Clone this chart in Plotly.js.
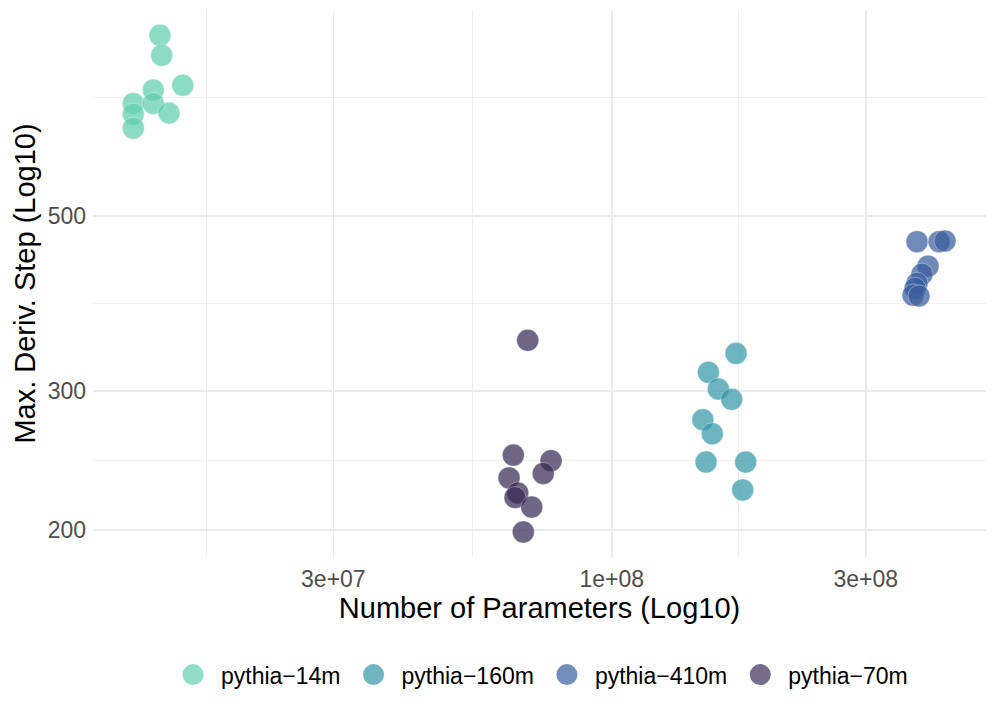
<!DOCTYPE html>
<html>
<head>
<meta charset="utf-8">
<script src="https://cdn.plot.ly/plotly-3.0.1.min.js"></script>
<style>
  html, body { margin: 0; padding: 0; background: #fff; }
  #chart { width: 997px; height: 712px; }
</style>
</head>
<body>
<div id="chart"></div>
<script>
// model names, as shown in the legend
var models = ['pythia\u221214m', 'pythia\u2212160m', 'pythia\u2212410m', 'pythia\u221270m'];
var colors = ['rgba(96,206,172,0.72)', 'rgba(52,151,169,0.72)', 'rgba(57,93,156,0.72)', 'rgba(56,42,84,0.72)'];
// same colours flattened on white, for the legend keys
var keyColors = ['#8FDDC5', '#71B5C3', '#758DBA', '#756B8B'];

// jittered parameter counts / max derivative step
var params_14m = [1.417e7, 1.428e7, 1.564e7, 1.377e7, 1.263e7, 1.377e7, 1.474e7, 1.263e7, 1.263e7];
var step_14m   = [847, 799, 732, 722, 694, 694, 675, 673, 646];

var params_160m = [1.712e8, 1.519e8, 1.586e8, 1.680e8, 1.483e8, 1.545e8, 1.504e8, 1.785e8, 1.762e8];
var step_160m   = [335, 317, 302, 293, 276, 265, 244, 244, 225];

var params_410m = [3.745e8, 4.119e8, 4.227e8, 3.928e8, 3.826e8, 3.745e8, 3.713e8, 3.681e8, 3.777e8];
var step_410m   = [464, 464, 465, 432, 422, 411, 405, 397, 396];

var params_70m = [6.954e7, 6.534e7, 7.691e7, 7.438e7, 6.415e7, 6.660e7, 6.582e7, 7.075e7, 6.823e7];
var step_70m   = [348, 249, 245, 236, 233, 223, 220, 214, 199];

// axis breaks
var xTicks = [3e7, 1e8, 3e8];
var xTickText = ['3e+07', '1e+08', '3e+08'];
var xMinor = [1.732e7, 5.477e7, 1.732e8];
var yTicks = [200, 300, 500];
var yTickText = ['200', '300', '500'];
var yMinor = [244.9, 387.3, 707.1];

var xs = [params_14m, params_160m, params_410m, params_70m];
var ys = [step_14m, step_160m, step_410m, step_70m];

var data = models.map(function (m, i) {
  return {
    x: xs[i],
    y: ys[i],
    name: m,
    legendgroup: m,
    showlegend: false,
    type: 'scatter',
    mode: 'markers',
    marker: {
      size: 22,
      color: colors[i],
      line: { width: 1, color: 'rgba(255,255,255,0.35)' }
    },
    hoverinfo: 'x+y+name'
  };
});

// legend-only entries: plotly caps legend symbols at 16px, the thick
// outline in the same colour brings the key up to ggplot's size
models.forEach(function (m, i) {
  data.push({
    x: [null],
    y: [null],
    name: m,
    legendgroup: m,
    type: 'scatter',
    mode: 'markers',
    marker: { size: 16, color: keyColors[i], line: { width: 5, color: keyColors[i] } },
    hoverinfo: 'skip'
  });
});

var grid = '#EBEBEB';
var font = 'Liberation Sans, Arial, Helvetica, sans-serif';

var layout = {
  width: 997,
  height: 712,
  margin: { l: 93, r: 11, t: 10, b: 155 },
  paper_bgcolor: '#fff',
  plot_bgcolor: '#fff',
  font: { family: font, color: '#000' },
  showlegend: true,
  xaxis: {
    type: 'log',
    range: [7.0257, 8.703],
    tickvals: xTicks,
    ticktext: xTickText,
    ticks: '',
    showline: false,
    zeroline: false,
    showgrid: true,
    gridcolor: grid,
    gridwidth: 1.6,
    tickfont: { family: font, size: 23, color: '#4D4D4D' },
    ticklabelstandoff: 6,
    minor: { tickvals: xMinor, showgrid: true, gridcolor: grid, gridwidth: 0.8, ticks: '' },
    automargin: false,
    title: {
      text: 'Number of Parameters (Log10)',
      font: { family: font, size: 29, color: '#000' },
      standoff: 5
    }
  },
  yaxis: {
    type: 'log',
    range: [2.2672, 2.9598],
    tickvals: yTicks,
    ticktext: yTickText,
    ticks: '',
    showline: false,
    zeroline: false,
    showgrid: true,
    gridcolor: grid,
    gridwidth: 1.6,
    tickfont: { family: font, size: 23, color: '#4D4D4D' },
    ticklabelstandoff: 6,
    minor: { tickvals: yMinor, showgrid: true, gridcolor: grid, gridwidth: 0.8, ticks: '' },
    automargin: false,
    title: {
      text: 'Max. Deriv. Step (Log10)',
      font: { family: font, size: 29, color: '#000' },
      standoff: 3
    }
  },
  legend: {
    orientation: 'h',
    x: 0.0806,
    xanchor: 'left',
    y: -0.215,
    yanchor: 'middle',
    itemwidth: 46,
    font: { family: font, size: 23, color: '#000' },
    bgcolor: 'rgba(0,0,0,0)'
  }
};

Plotly.newPlot('chart', data, layout, { displayModeBar: false, staticPlot: true });
</script>
</body>
</html>
